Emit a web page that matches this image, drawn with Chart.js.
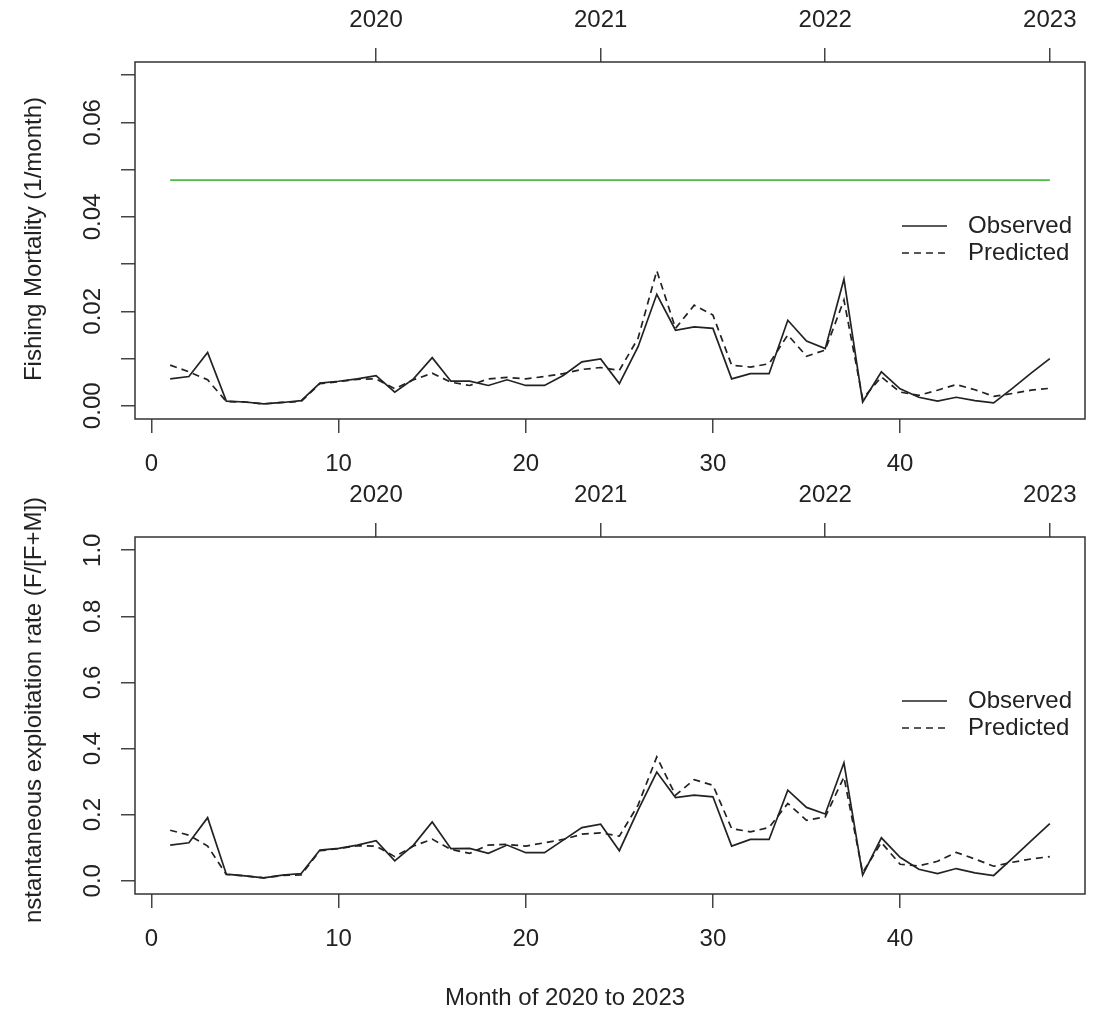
<!DOCTYPE html>
<html>
<head>
<meta charset="utf-8">
<script src="https://cdn.jsdelivr.net/npm/chart.js@4.4.1/dist/chart.umd.min.js"></script>
<style>
  body { margin: 0; background: #fff; }
  #wrap { position: relative; width: 1101px; height: 1011px; }
  canvas { position: absolute; left: 0; }
</style>
</head>
<body>
<div id="wrap">
  <canvas id="fishing" width="1101" height="475" style="top:0"></canvas>
  <canvas id="exploit" width="1101" height="536" style="top:475px"></canvas>
</div>
<script>
const months = [1, 2, 3, 4, 5, 6, 7, 8, 9, 10, 11, 12, 13, 14, 15, 16, 17, 18, 19, 20, 21, 22, 23, 24,
  25, 26, 27, 28, 29, 30, 31, 32, 33, 34, 35, 36, 37, 38, 39, 40, 41, 42, 43, 44, 45, 46, 47, 48];

// fishing mortality (1/month)
const fObserved = [0.0057, 0.0062, 0.0113, 0.0010, 0.0008, 0.0004, 0.0007, 0.0011, 0.0048, 0.0052, 0.0057, 0.0064,
  0.0029, 0.0057, 0.0102, 0.0052, 0.0052, 0.0043, 0.0055, 0.0043, 0.0043, 0.0064, 0.0093, 0.0099,
  0.0047, 0.0125, 0.0236, 0.0160, 0.0167, 0.0164, 0.0057, 0.0068, 0.0068, 0.0181, 0.0137, 0.0121,
  0.0268, 0.0008, 0.0072, 0.0036, 0.0018, 0.0010, 0.0018, 0.0011, 0.0006, 0.0037, 0.0069, 0.0100];
const fPredicted = [0.0086, 0.0072, 0.0055, 0.0009, 0.0008, 0.0004, 0.0007, 0.0009, 0.0047, 0.0051, 0.0056, 0.0057,
  0.0036, 0.0055, 0.0069, 0.0050, 0.0043, 0.0057, 0.0060, 0.0057, 0.0062, 0.0068, 0.0077, 0.0081,
  0.0075, 0.0143, 0.0286, 0.0164, 0.0213, 0.0192, 0.0086, 0.0082, 0.0089, 0.0150, 0.0105, 0.0118,
  0.0224, 0.0015, 0.0061, 0.0029, 0.0022, 0.0033, 0.0045, 0.0034, 0.0020, 0.0026, 0.0033, 0.0037];
const refMonths = [1, 48];
const refF = [0.0478, 0.0478];

// exploitation rate F/(F+M)
const eObserved = [0.108, 0.115, 0.191, 0.020, 0.015, 0.009, 0.017, 0.022, 0.093, 0.098, 0.108, 0.121,
  0.060, 0.108, 0.178, 0.097, 0.098, 0.083, 0.108, 0.085, 0.085, 0.123, 0.161, 0.171,
  0.091, 0.214, 0.329, 0.252, 0.259, 0.254, 0.105, 0.125, 0.125, 0.274, 0.222, 0.202,
  0.357, 0.017, 0.130, 0.071, 0.035, 0.022, 0.037, 0.024, 0.016, 0.068, 0.121, 0.173];
const ePredicted = [0.153, 0.138, 0.105, 0.019, 0.015, 0.009, 0.016, 0.018, 0.091, 0.097, 0.106, 0.105,
  0.073, 0.105, 0.126, 0.095, 0.083, 0.108, 0.110, 0.105, 0.115, 0.125, 0.141, 0.145,
  0.135, 0.229, 0.375, 0.259, 0.306, 0.289, 0.158, 0.148, 0.161, 0.234, 0.183, 0.193,
  0.314, 0.025, 0.116, 0.050, 0.045, 0.059, 0.086, 0.066, 0.044, 0.056, 0.066, 0.073];

const monthTicks = [0, 10, 20, 30, 40];
const yearTicks = [12, 24, 36, 48];
const yearLabels = ['2020', '2021', '2022', '2023'];
const fTicks = [0, 0.01, 0.02, 0.03, 0.04, 0.05, 0.06, 0.07];
const fTickLabels = ['0.00', '', '0.02', '', '0.04', '', '0.06', ''];
const eTicks = [0, 0.2, 0.4, 0.6, 0.8, 1.0];
const eTickLabels = ['0.0', '0.2', '0.4', '0.6', '0.8', '1.0'];

const FONT = '"Liberation Sans", Arial, Helvetica, sans-serif';
const INK = '#222';

function pts(xs, ys) {
  return xs.map((x, i) => ({ x: x, y: ys[i] }));
}

// box, rotated y labels, y title, legend, x title
const frame = {
  id: 'frame',
  afterDraw(chart, args, o) {
    const { ctx, chartArea: a } = chart;
    const ys = chart.scales.y;
    ctx.save();
    ctx.strokeStyle = '#333';
    ctx.lineWidth = 1.5;
    ctx.strokeRect(a.left, a.top, a.right - a.left, a.bottom - a.top);

    ctx.fillStyle = INK;
    ctx.font = '24px ' + FONT;
    ctx.textAlign = 'center';
    ctx.textBaseline = 'alphabetic';
    o.yTicks.forEach((v, i) => {
      if (!o.yLabels[i]) return;
      ctx.save();
      ctx.translate(100, ys.getPixelForValue(v));
      ctx.rotate(-Math.PI / 2);
      ctx.fillText(o.yLabels[i], 0, 0);
      ctx.restore();
    });

    ctx.save();
    ctx.translate(40.5, o.titleY);
    ctx.rotate(-Math.PI / 2);
    ctx.fillText(o.yTitle, 0, 0);
    ctx.restore();

    if (o.xTitle) ctx.fillText(o.xTitle, 565, 530);

    // legend
    const entries = chart.data.datasets.filter(d => d.label);
    entries.forEach((d, i) => {
      const y = 226 + i * 27;
      ctx.save();
      ctx.strokeStyle = d.borderColor;
      ctx.lineWidth = d.borderWidth;
      ctx.setLineDash(d.borderDash || []);
      ctx.beginPath();
      ctx.moveTo(902, y);
      ctx.lineTo(947, y);
      ctx.stroke();
      ctx.restore();
      ctx.textAlign = 'left';
      ctx.textBaseline = 'middle';
      ctx.fillText(d.label, 968, y);
    });
    ctx.restore();
  }
};

function makePanel(id, cfg) {
  const tickFont = { family: FONT, size: 24 };
  const gridOpts = { drawOnChartArea: false, tickLength: 14, color: '#444', lineWidth: 1.5 };
  const datasets = [
    { label: 'Observed', data: pts(months, cfg.obs), borderColor: INK, borderWidth: 1.7 },
    { label: 'Predicted', data: pts(months, cfg.pred), borderColor: INK, borderWidth: 1.7, borderDash: [7, 5] }
  ];
  if (cfg.ref) {
    datasets.push({ data: pts(refMonths, refF), borderColor: '#4DB848', borderWidth: 1.7 });
  }
  return new Chart(document.getElementById(id), {
    type: 'line',
    data: { datasets: datasets },
    plugins: [frame],
    options: {
      responsive: false,
      animation: false,
      events: [],
      layout: { padding: { left: 0, right: 16, top: 0, bottom: 0 } },
      elements: { point: { radius: 0 }, line: { tension: 0, fill: false } },
      plugins: {
        legend: { display: false },
        tooltip: { enabled: false },
        frame: { yTicks: cfg.yTicks, yLabels: cfg.yLabels, yTitle: cfg.yTitle, titleY: cfg.titleY, xTitle: cfg.xTitle }
      },
      scales: {
        x: {
          type: 'linear', position: 'bottom', min: -0.88, max: 49.88,
          afterBuildTicks: s => { s.ticks = monthTicks.map(v => ({ value: v })); },
          afterFit: s => { s.height = cfg.bottomSpace; },
          ticks: { autoSkip: false, maxRotation: 0, padding: 16.6, color: INK, font: tickFont, callback: v => String(v) },
          grid: gridOpts,
          border: { display: false }
        },
        x2: {
          type: 'linear', position: 'top', min: -0.88, max: 49.88,
          afterBuildTicks: s => { s.ticks = yearTicks.map(v => ({ value: v })); },
          afterFit: s => { s.height = 62; },
          ticks: { autoSkip: false, maxRotation: 0, padding: 13.6, color: INK, font: tickFont, callback: (v, i) => yearLabels[i] },
          grid: gridOpts,
          border: { display: false }
        },
        y: {
          type: 'linear', position: 'left', min: cfg.yMin, max: cfg.yMax,
          afterBuildTicks: s => { s.ticks = cfg.yTicks.map(v => ({ value: v })); },
          afterFit: s => { s.width = 135; },
          ticks: { display: false },
          grid: gridOpts,
          border: { display: false }
        }
      }
    }
  });
}

makePanel('fishing', {
  obs: fObserved, pred: fPredicted, ref: true,
  yMin: -0.0028, yMax: 0.0728, yTicks: fTicks, yLabels: fTickLabels,
  yTitle: 'Fishing Mortality (1/month)', titleY: 239, bottomSpace: 56
});

makePanel('exploit', {
  obs: eObserved, pred: ePredicted, ref: false,
  yMin: -0.04, yMax: 1.04, yTicks: eTicks, yLabels: eTickLabels,
  yTitle: 'nstantaneous exploitation rate (F/[F+M])', titleY: 235, bottomSpace: 117,
  xTitle: 'Month of 2020 to 2023'
});
</script>
</body>
</html>
